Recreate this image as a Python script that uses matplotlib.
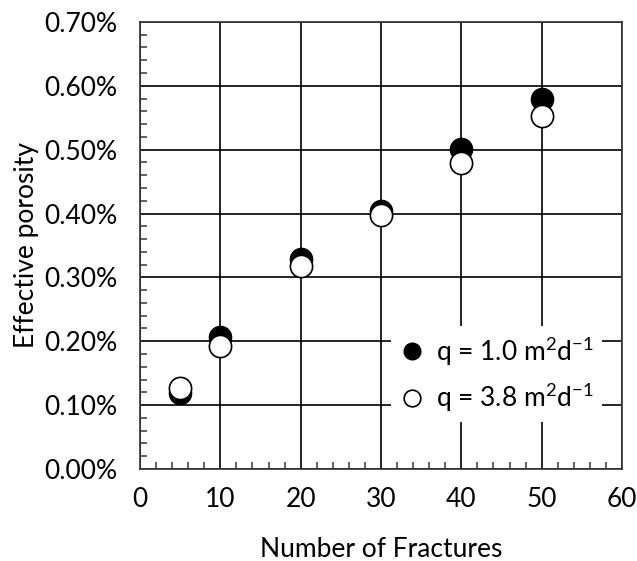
import matplotlib.pyplot as plt
from matplotlib.ticker import MultipleLocator, FuncFormatter

plt.rcParams['font.family'] = ['Lato', 'DejaVu Sans']
plt.rcParams['mathtext.fontset'] = 'custom'
plt.rcParams['mathtext.rm'] = 'Lato'

# Effective porosity (%) against number of fractures
fractures = [5, 10, 20, 30, 40, 50]
poro_q10 = [0.119, 0.207, 0.329, 0.404, 0.501, 0.580]
poro_q38 = [0.127, 0.193, 0.318, 0.397, 0.479, 0.552]

fig = plt.figure(figsize=(6.37, 5.61), dpi=100)
ax = fig.add_axes([0.2198, 0.164, 0.7567, 0.797])

ax.plot(fractures, poro_q10, 'o', ms=16, mfc='black', mec='black',
        label=r'q = 1.0 m$^{2}$d$^{-1}$', zorder=3)
ax.plot(fractures, poro_q38, 'o', ms=16, mfc='white', mec='black', mew=1.2,
        label=r'q = 3.8 m$^{2}$d$^{-1}$', zorder=4)

ax.set_xlim(0, 60)
ax.set_ylim(0, 0.70)
ax.xaxis.set_major_locator(MultipleLocator(10))
ax.xaxis.set_minor_locator(MultipleLocator(2))
ax.yaxis.set_major_locator(MultipleLocator(0.1))
ax.yaxis.set_minor_locator(MultipleLocator(0.02))
ax.yaxis.set_major_formatter(FuncFormatter(lambda v, p: '{:.2f}%'.format(v)))

ax.grid(True, which='major', color='black', lw=1.2)
ax.set_axisbelow(True)
ax.tick_params(which='both', direction='in', color='black', labelsize=19)
ax.tick_params(axis='y', pad=16)
ax.tick_params(axis='x', pad=13)
ax.tick_params(which='major', length=0)
ax.tick_params(which='minor', length=5, width=1.2, color='#444444')
for s in ax.spines.values():
    s.set_color('#333333')
    s.set_linewidth(1.2)

ax.set_xlabel('Number of Fractures', fontsize=19, labelpad=18)
ax.set_ylabel('Effective porosity', fontsize=19, labelpad=4)

leg = ax.legend(loc='lower right', bbox_to_anchor=(0.985, 0.075), frameon=True,
                fontsize=19, handletextpad=0.4, borderpad=0.3, labelspacing=0.5,
                handlelength=1.0, markerscale=0.75)
leg.get_frame().set_edgecolor('none')
leg.get_frame().set_facecolor('white')
leg.get_frame().set_alpha(1)
leg.get_frame().set_boxstyle('square', pad=0)

fig.savefig('out.png', dpi=100)
